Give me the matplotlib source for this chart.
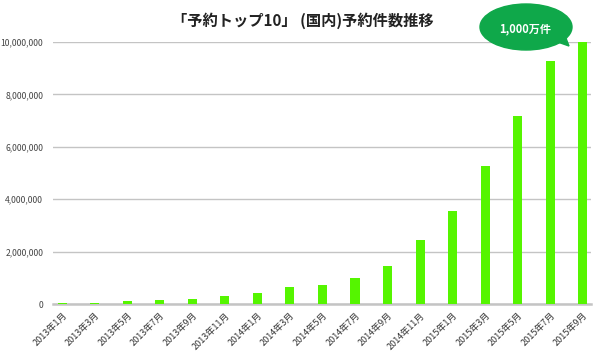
import matplotlib
matplotlib.use('Agg')
import matplotlib.pyplot as plt
from matplotlib.patches import Ellipse, Polygon
from matplotlib.ticker import FuncFormatter
import numpy as np

plt.rcParams['font.family'] = ['Noto Sans CJK JP', 'DejaVu Sans']

# monthly booking counts
months = ['2013年1月', '2013年3月', '2013年5月', '2013年7月', '2013年9月', '2013年11月',
          '2014年1月', '2014年3月', '2014年5月', '2014年7月', '2014年9月', '2014年11月',
          '2015年1月', '2015年3月', '2015年5月', '2015年7月', '2015年9月']
bookings = [25000, 50000, 110000, 140000, 200000, 310000,
            420000, 640000, 740000, 1000000, 1460000, 2440000,
            3560000, 5250000, 7170000, 9280000, 10000000]
title = '「予約トップ10」 (国内)予約件数推移'
callout = '1,000万件'

W, H = 600, 364
fig = plt.figure(figsize=(W / 100, H / 100), dpi=100)
ax = fig.add_axes([53 / W, 1 - 304 / H, (591 - 53) / W, (304 - 42) / H])

x = np.arange(len(months))
ax.bar(x, bookings, width=0.28, color='#55f500', zorder=3, clip_on=False)

ax.set_xlim(-0.28, len(months) - 1 + 0.25)
ax.set_ylim(0, 10000000)
ax.set_yticks(np.arange(0, 10000001, 2000000))
ax.yaxis.set_major_formatter(FuncFormatter(lambda v, p: f'{int(v):,}'))
ax.grid(axis='y', color='#c4c4c4', linewidth=1, zorder=0)
ax.set_axisbelow(True)

for s in ['top', 'right', 'left']:
    ax.spines[s].set_visible(False)
ax.spines['bottom'].set_color('#c4c4c4')
ax.spines['bottom'].set_linewidth(1.8)

ax.set_xticks(x)
ax.set_xticklabels(months, rotation=45, ha='right', rotation_mode='anchor',
                   fontsize=6.5, color='#333333')
ax.tick_params(axis='x', length=0, pad=5)
ax.tick_params(axis='y', length=0, pad=7, labelsize=6.2, labelcolor='#444444')

fig.text(303 / W, 1 - 21 / H, title, ha='center', va='center',
         fontsize=11, fontweight='bold', color='#222222')

# speech bubble callout
bubble_color = '#0fa84a'
fig.patches.append(Polygon([(552 / W, 1 - 40 / H), (569 / W, 1 - 46 / H), (562 / W, 1 - 28 / H)],
                           closed=True, transform=fig.transFigure, color=bubble_color, zorder=5))
fig.patches.append(Ellipse((526 / W, 1 - 27 / H), 92 / W, 46 / H,
                           transform=fig.transFigure, color=bubble_color, zorder=5))
fig.text(525 / W, 1 - 29 / H, callout, ha='center', va='center', fontsize=8,
         fontweight='bold', color='white', zorder=6)

fig.savefig('out.png', dpi=100)
